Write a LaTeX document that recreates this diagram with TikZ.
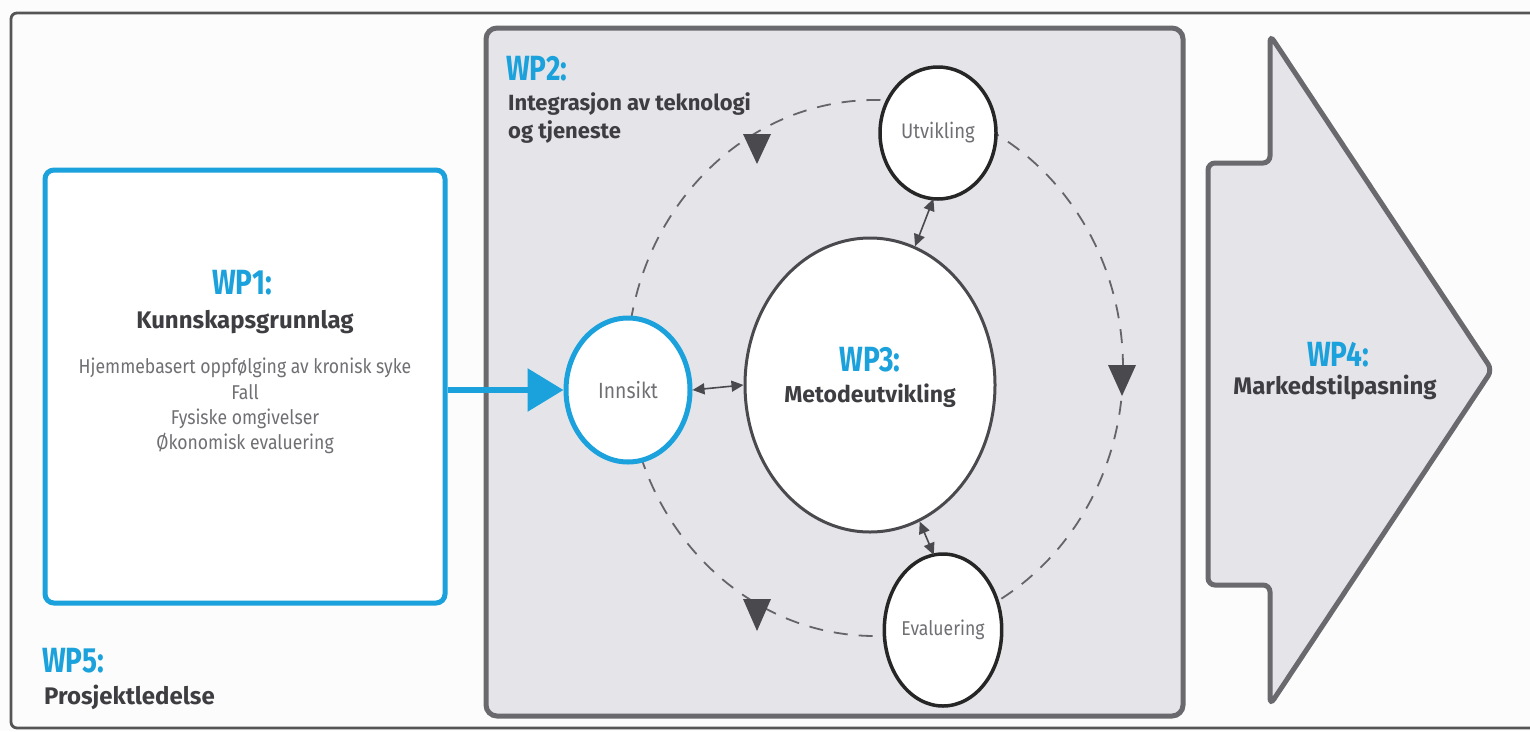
\documentclass[tikz,border=0pt]{standalone}
\usepackage{fontspec}
\setmainfont{Fira Sans}
\newfontfamily\lightfont{Fira Sans}[FakeStretch=0.88]
\newfontfamily\condfont{Fira Sans}[FakeStretch=0.8]
\usetikzlibrary{shapes.geometric,arrows.meta}
\definecolor{wpblue}{HTML}{1BA1DB}
\definecolor{darktxt}{HTML}{3E3E42}
\definecolor{lighttxt}{HTML}{707074}
\definecolor{boxgray}{HTML}{E5E5E9}
\definecolor{edgegray}{HTML}{6A6A6E}
\definecolor{arrgray}{HTML}{4A4A4E}
\definecolor{framegray}{HTML}{555555}
\tikzset{
  wptitle/.style={font=\condfont\fontsize{35}{36}\selectfont\bfseries, text=wpblue, inner sep=0pt},
  wpname/.style={font=\fontsize{24}{27}\selectfont\bfseries, text=darktxt, inner sep=0pt},
  lighttext/.style={font=\lightfont\fontsize{20}{25.3}\selectfont, text=lighttxt, inner sep=0pt, align=center},
  phase/.style={ellipse, draw=black!85, line width=3.5pt, fill=white, inner sep=0pt, outer sep=0pt,
    font=\lightfont\fontsize{21}{24}\selectfont, text=lighttxt},
  dbl/.style={draw=arrgray, line width=1.6pt, {Triangle[length=12pt,width=11pt]}-{Triangle[length=12pt,width=11pt]}},
  cyc/.style={draw=arrgray!85, line width=1.8pt, dash pattern=on 14pt off 11pt},
  tri/.style={fill=arrgray}
}
\begin{document}
\begin{tikzpicture}[x=1pt,y=-1pt]
\useasboundingbox (0,0) rectangle (1530,731);
\fill[white!98!gray] (0,0) rectangle (1530,731);
\begin{scope}
\clip (0,0) rectangle (1530,731);
% outer frame (WP5)
\draw[framegray, line width=2.8pt, rounded corners=6pt] (11,13) rectangle (1560,728);
\end{scope}
% WP1 box
\node[draw=wpblue, line width=5pt, rounded corners=9pt, fill=white, minimum width=400pt, minimum height=433pt, inner sep=0pt] (wp1) at (245,386.5) {};
% WP2 box
\node[draw=edgegray, fill=boxgray, line width=5pt, rounded corners=11pt, minimum width=697pt, minimum height=688pt, inner sep=0pt] (wp2) at (834.5,372) {};
% WP4 arrow
\draw[draw=edgegray, fill=boxgray, line width=5pt, rounded corners=7pt]
  (1208,163) -- (1270,163) -- (1270,35) -- (1492,370) -- (1270,705) -- (1270,585) -- (1208,585) -- cycle;
% dashed cycle
\draw[cyc] (875,368) ellipse [x radius=248pt, y radius=268pt];
% triangles on cycle
\fill[tri] (757,148) ++(-14,-14) -- ++(28,0) -- ++(-14,30) -- cycle;
\fill[tri] (1122,380) ++(-14,-15) -- ++(28,0) -- ++(-14,31) -- cycle;
\fill[tri] (757,615) ++(-14,-16) -- ++(28,0) -- ++(-14,32) -- cycle;
% circles
\node[phase] (utv) at (938,133) [minimum width=116pt, minimum height=132pt] {Utvikling};
\node[phase] (eva) at (943,630) [minimum width=110pt, minimum height=152pt] {\fontsize{20}{22}\selectfont Evaluering};
\node[ellipse, draw=arrgray, line width=3pt, fill=white, inner sep=0pt, minimum width=250pt, minimum height=294pt] (wp3) at (870,385) {};
\node[ellipse, draw=wpblue, line width=5pt, fill=white, inner sep=0pt, minimum width=124pt, minimum height=144pt,
  font=\lightfont\fontsize{22}{24}\selectfont, text=lighttxt] (ins) at (628,390) {Innsikt};
% connectors
\draw[dbl] (ins.east) -- (wp3.west);
\draw[dbl] (utv.-94) -- (wp3.72);
\draw[dbl] (wp3.-70) -- (eva.97);
\draw[wpblue, line width=6pt, -{Triangle[length=36pt,width=42pt]}] (wp1.east |- ins.west) -- (ins.west);
% texts
\node[wptitle] (t1) at (242,283) {WP1:};
\node[wpname] (n1) at (245,322) {Kunnskapsgrunnlag};
\node[lighttext] (l1) at (245,406) {Hjemmebasert oppfølging av kronisk syke\\Fall\\Fysiske omgivelser\\Økonomisk evaluering};
\node[wptitle, anchor=west] (t2) at (506,69) {WP2:};
\node[wpname, anchor=north west, align=left, font=\fontsize{22}{28}\selectfont\bfseries] (n2) at (508,92) {Integrasjon av teknologi\\og tjeneste};
\node[wptitle] (t3) at (870,360) {WP3:};
\node[wpname, font=\fontsize{23}{25}\selectfont\bfseries] (n3) at (870,396) {Metodeutvikling};
\node[wptitle] (t4) at (1338,355) {WP4:};
\node[wpname] (n4) at (1335,387) {Markedstilpasning};
\node[wptitle, anchor=west] (t5) at (42,661) {WP5:};
\node[wpname, anchor=west] (n5) at (44,697) {Prosjektledelse};
\end{tikzpicture}
\end{document}
